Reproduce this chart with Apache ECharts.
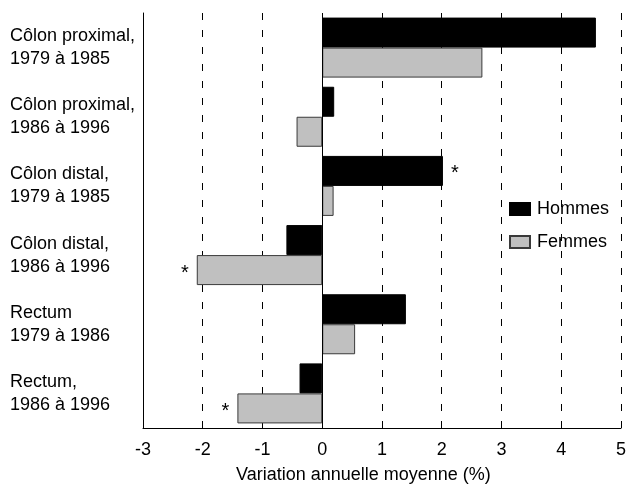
<!DOCTYPE html>
<html>
<head>
<meta charset="utf-8">
<script src="https://cdn.jsdelivr.net/npm/echarts@6/dist/echarts.min.js"></script>
<style>
html,body{margin:0;padding:0;background:#fff;}
#chart{width:629px;height:489px;}
</style>
</head>
<body>
<div id="chart"></div>
<script>
var categories = [
  "Côlon proximal,\n1979 à 1985",
  "Côlon proximal,\n1986 à 1996",
  "Côlon distal,\n1979 à 1985",
  "Côlon distal,\n1986 à 1996",
  "Rectum\n1979 à 1986",
  "Rectum,\n1986 à 1996"
];
var hommes = [4.58, 0.2, 2.02, -0.6, 1.4, -0.38];
var femmes = [2.68, -0.43, 0.19, -2.1, 0.55, -1.42];
var hommesStar = [false, false, true, false, false, false];
var femmesStar = [false, false, false, true, false, true];
var xTicks = [-3, -2, -1, 0, 1, 2, 3, 4, 5];

var FONT = '"Liberation Sans", Arial, sans-serif';
var FS = 18;

function withStars(vals, stars) {
  return vals.map(function (v, i) {
    if (!stars[i]) return v;
    return {
      value: v,
      label: {
        show: true,
        position: v >= 0 ? 'right' : 'left',
        distance: 8,
        formatter: '*',
        fontSize: 20,
        fontFamily: FONT,
        color: '#000',
        offset: [0, 3]
      }
    };
  });
}

var chart = echarts.init(document.getElementById('chart'), null, {renderer: 'canvas'});
chart.setOption({
  animation: false,
  backgroundColor: '#fff',
  textStyle: {fontFamily: FONT},
  grid: {left: 143, right: 6, top: 13, bottom: 61, containLabel: false},
  legend: {
    orient: 'vertical',
    left: 504,
    top: 194,
    padding: 5,
    itemWidth: 20,
    itemHeight: 12,
    itemGap: 13,
    icon: 'rect',
    textStyle: {fontSize: FS, fontFamily: FONT, color: '#000', lineHeight: 20, padding: [0, 0, 0, 2]},
    data: ['Hommes', 'Femmes']
  },
  xAxis: {
    type: 'value',
    min: xTicks[0],
    max: xTicks[xTicks.length - 1],
    interval: 1,
    axisLine: {show: true, lineStyle: {color: '#000', width: 1}},
    axisTick: {show: false},
    axisLabel: {fontSize: FS, fontFamily: FONT, color: '#000', margin: 13},
    splitLine: {show: true, lineStyle: {color: '#000', width: 1, type: [7, 10]}}
  },
  yAxis: {
    type: 'category',
    inverse: true,
    data: categories,
    axisLine: {show: true, onZero: false, lineStyle: {color: '#000', width: 1}},
    axisTick: {show: false},
    axisLabel: {
      fontSize: FS, fontFamily: FONT, color: '#000',
      align: 'left', margin: 133, lineHeight: 23, padding: [5, 0, 0, 0]
    },
    splitLine: {show: false}
  },
  series: [
    {
      name: 'Hommes',
      type: 'bar',
      data: withStars(hommes, hommesStar),
      barWidth: 30,
      barGap: '0%',
      itemStyle: {color: '#000', borderColor: '#000', borderWidth: 1},
      markLine: {
        silent: true,
        symbol: 'none',
        label: {show: false},
        lineStyle: {color: '#000', width: 1, type: 'solid'},
        data: [{xAxis: 0}]
      }
    },
    {
      name: 'Femmes',
      type: 'bar',
      data: withStars(femmes, femmesStar),
      barWidth: 30,
      barGap: '0%',
      itemStyle: {color: '#c0c0c0', borderColor: '#3a3a3a', borderWidth: 1}
    }
  ],
  graphic: [{
    type: 'text',
    left: 236,
    top: 466,
    style: {text: 'Variation annuelle moyenne (%)', fontSize: FS, fontFamily: FONT, fill: '#000'}
  }]
});
</script>
</body>
</html>
